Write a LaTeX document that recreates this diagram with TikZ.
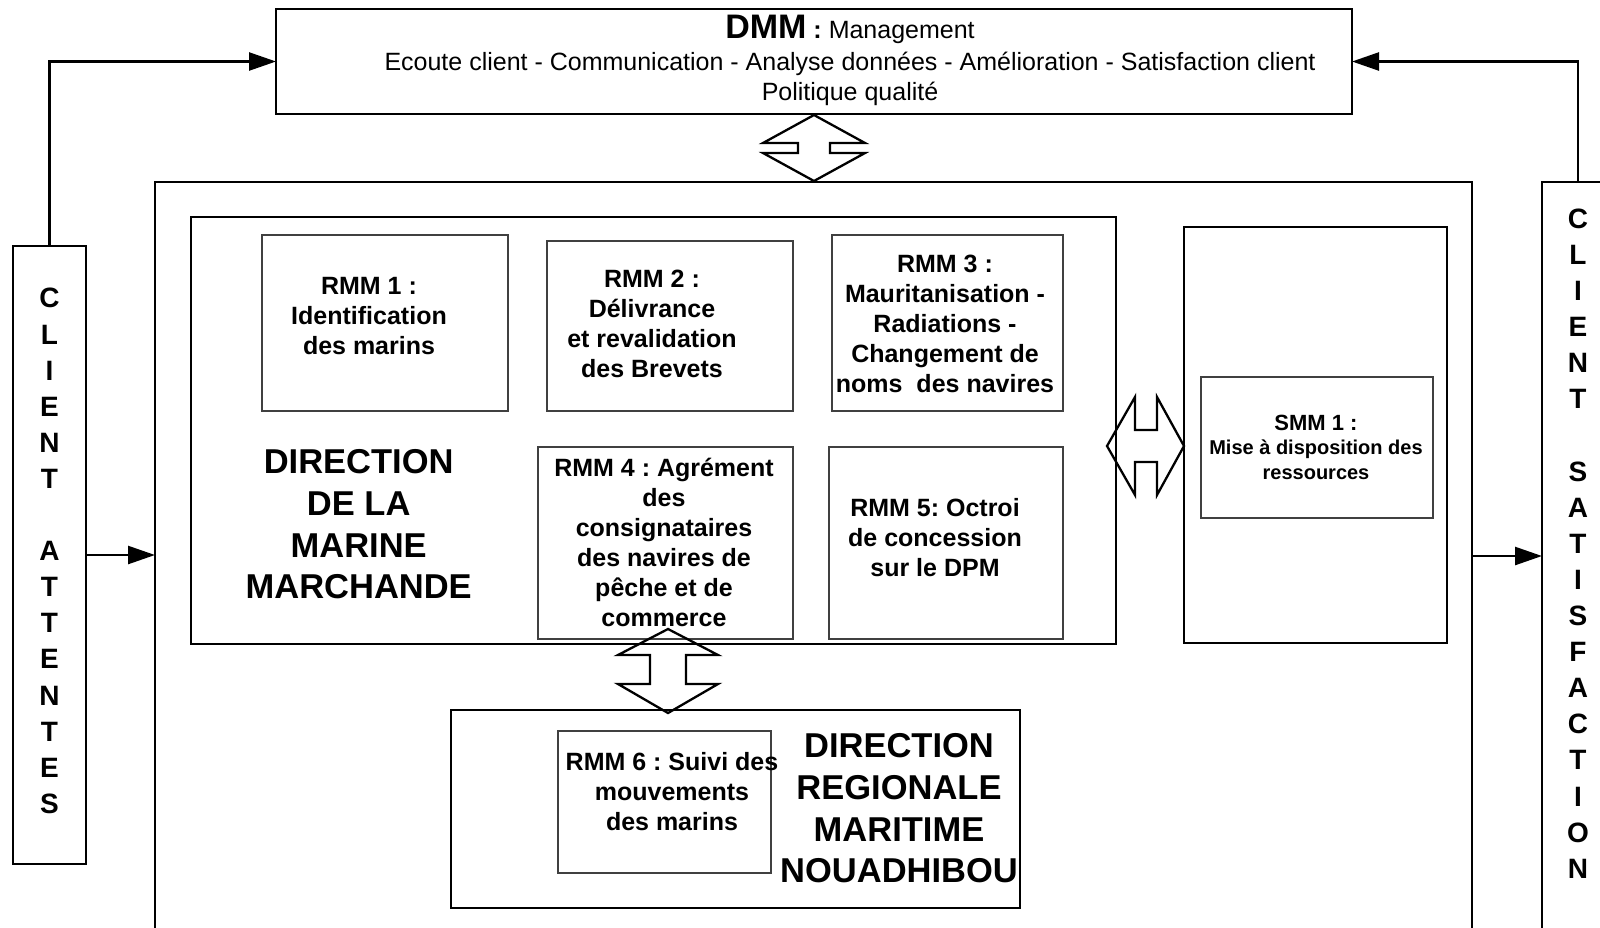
\documentclass[tikz,border=0pt]{standalone}
\usepackage{fontspec}
\setmainfont{Liberation Sans}
\usetikzlibrary{arrows.meta}
\frenchspacing
\begin{document}
\begin{tikzpicture}[x=1pt,y=-1pt,
  mainbox/.style={draw, line width=2.6pt, inner sep=0pt, outer sep=0pt},
  subbox/.style={draw=black!75, line width=1.2pt, inner sep=0pt, outer sep=0pt},
  conn/.style={line width=2.5pt, -{Triangle[length=27pt,width=18pt]}},
  blockarrow/.style={draw, line width=2.3pt, line join=miter},
  rmmtxt/.style={font=\fontsize{25}{30}\selectfont\bfseries, align=center, inner sep=0pt},
  bigtxt/.style={font=\fontsize{34.5}{41.7}\selectfont\bfseries, align=center, inner sep=0pt},
  clienttxt/.style={font=\fontsize{28}{36.1}\selectfont\bfseries, align=center, inner sep=0pt},
  linetxt/.style={anchor=base, inner sep=0pt, font=\fontsize{25}{30}\selectfont}
]
\useasboundingbox (0,0) rectangle (1600,927);

% boxes
\node[mainbox, minimum width=1076pt, minimum height=105pt] (dmm) at (814,61.5) {};
\node[mainbox, minimum width=73pt, minimum height=618pt] (ca) at (49.5,555) {};
\node[mainbox, minimum width=72pt, minimum height=748pt] (cs) at (1578,556) {};
\node[mainbox, minimum width=1317pt, minimum height=747pt] (outer) at (813.5,555.5) {};
\node[mainbox, minimum width=925pt, minimum height=427pt] (dmmar) at (653.5,430.5) {};
\node[subbox, minimum width=246pt, minimum height=176pt] (rmm1) at (385,323) {};
\node[subbox, minimum width=246pt, minimum height=170pt] (rmm2) at (670,326) {};
\node[subbox, minimum width=231pt, minimum height=176pt] (rmm3) at (947.5,323) {};
\node[subbox, minimum width=255pt, minimum height=192pt] (rmm4) at (665.5,543) {};
\node[subbox, minimum width=234pt, minimum height=192pt] (rmm5) at (946,543) {};
\node[mainbox, minimum width=263pt, minimum height=416pt] (smmo) at (1315.5,435) {};
\node[subbox, minimum width=232pt, minimum height=141pt] (smm1) at (1317,447.5) {};
\node[mainbox, minimum width=569pt, minimum height=198pt] (drm) at (735.5,809) {};
\node[subbox, minimum width=213pt, minimum height=142pt] (rmm6) at (664.5,802) {};

% DMM texts
\node[linetxt] (dmmt1) at (850,38) {{\fontsize{34}{40}\selectfont\bfseries DMM} \textbf{:} Management};
\node[linetxt] (dmmt2) at (850,70) {Ecoute client - Communication - Analyse données - Amélioration - Satisfaction client};
\node[linetxt] (dmmt3) at (850,100) {Politique qualité};

% client columns
\node[clienttxt] (catxt) at (49.5,551) {C\\L\\I\\E\\N\\T\\\mbox{}\\A\\T\\T\\E\\N\\T\\E\\S};
\node[clienttxt] (cstxt) at (1578,543.6) {C\\L\\I\\E\\N\\T\\\mbox{}\\S\\A\\T\\I\\S\\F\\A\\C\\T\\I\\O\\N};

% RMM texts
\node[rmmtxt] (r1t) at (369,316) {RMM 1 :\\Identification\\des marins};
\node[rmmtxt] (r2t) at (652,324) {RMM 2 :\\Délivrance\\et revalidation\\des Brevets};
\node[rmmtxt] (r3t) at (945,324) {RMM 3 :\\Mauritanisation -\\Radiations -\\Changement de\\noms\ \ des navires};
\node[rmmtxt] (r4t) at (664,542.5) {RMM 4 : Agrément\\des\\consignataires\\des navires de\\pêche et de\\commerce};
\node[rmmtxt] (r5t) at (935,538) {RMM 5: Octroi\\de concession\\sur le DPM};
\node[rmmtxt] (r6t) at (672,791.5) {RMM 6 : Suivi des\\mouvements\\des marins};
\node[align=center, inner sep=0pt, font=\fontsize{20}{24.5}\selectfont\bfseries] (smmt) at (1316,447) {{\fontsize{22}{24.5}\selectfont SMM 1 :}\\Mise à disposition des\\ressources};

% big titles
\node[bigtxt] (dmmtitle) at (358.7,524.5) {DIRECTION\\DE LA\\MARINE\\MARCHANDE};
\node[bigtxt] (drmtitle) at (899,808.5) {DIRECTION\\REGIONALE\\MARITIME\\NOUADHIBOU};

% connectors
\draw[conn] (ca.north) |- (dmm.west);
\draw[conn] (cs.north) |- (dmm.east);
\draw[conn] (ca.east) -- (ca.east -| outer.west);
\draw[conn] (cs.west -| outer.east) -- (cs.west);

% hollow double arrows
\draw[blockarrow] (814,115) -- (865,143) -- (830,143) -- (830,153) -- (865,153) -- (814,181)
  -- (763,153) -- (798,153) -- (798,143) -- (763,143) -- cycle;
\draw[blockarrow] (1107,446) -- (1135,397) -- (1135,430) -- (1157,430) -- (1157,397) -- (1184,446)
  -- (1157,495) -- (1157,462) -- (1135,462) -- (1135,495) -- cycle;
\draw[blockarrow] (668,629) -- (718,655) -- (686,655) -- (686,684) -- (718,684) -- (668,713)
  -- (618,684) -- (650,684) -- (650,655) -- (618,655) -- cycle;
\end{tikzpicture}
\end{document}
